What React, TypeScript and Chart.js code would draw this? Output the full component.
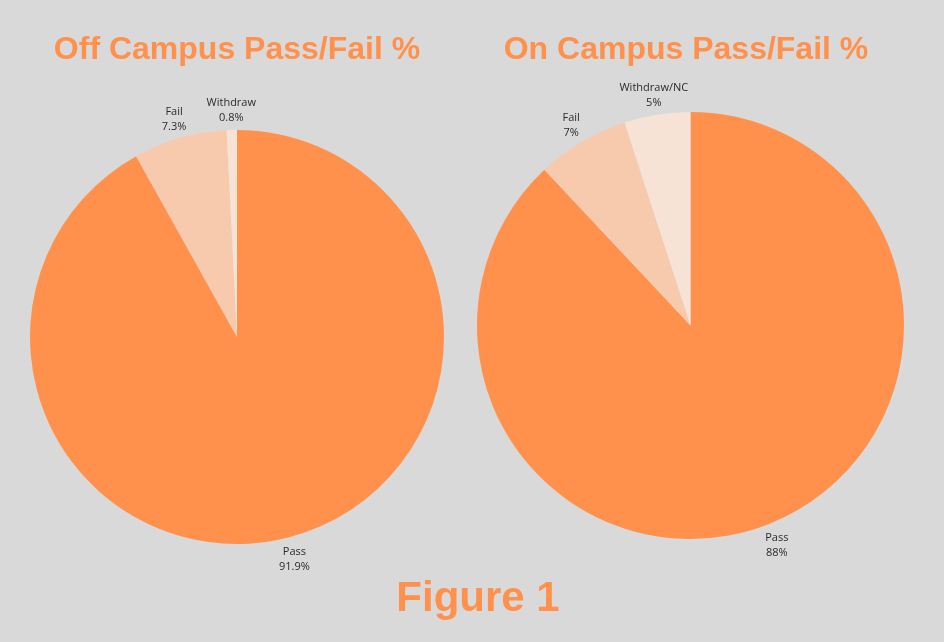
import React, { useEffect, useRef } from "react";
import { Chart, registerables } from "chart.js";

Chart.register(...registerables);

const offCategories = ["Pass", "Fail", "Withdraw"];
const offValues = [91.9, 7.3, 0.8];
const offValueLabels = ["91.9%", "7.3%", "0.8%"];

const onCategories = ["Pass", "Fail", "Withdraw/NC"];
const onValues = [88, 7, 5];
const onValueLabels = ["88%", "7%", "5%"];

const sliceColors = ["#ff914d", "#f7c9ad", "#f7e2d6"];
const ORANGE = "#ff914d";
const BG = "#d9d9d9";

const outsideLabels = {
  id: "outsideLabels",
  afterDraw(chart: any) {
    const opts = chart.options.plugins.outsideLabels;
    const meta = chart.getDatasetMeta(0);
    const ctx = chart.ctx;
    ctx.save();
    ctx.font = "11px 'Open Sans'";
    ctx.fillStyle = "#2b2b2b";
    ctx.textAlign = "center";
    ctx.textBaseline = "middle";
    meta.data.forEach((arc: any, i: number) => {
      const p = arc.getProps(["x", "y", "startAngle", "endAngle", "outerRadius"], true);
      const mid = (p.startAngle + p.endAngle) / 2;
      const d = p.outerRadius + opts.offset;
      const cx = p.x + Math.cos(mid) * d;
      const cy = p.y + Math.sin(mid) * d + opts.shiftY;
      ctx.fillText(chart.data.labels[i], cx, cy - 7.5);
      ctx.fillText(opts.values[i], cx, cy + 7.5);
    });
    ctx.restore();
  },
};

function PieChart(props: {
  labels: string[];
  values: number[];
  valueLabels: string[];
  padding: { left: number; right: number; top: number; bottom: number };
}) {
  const ref = useRef<HTMLCanvasElement>(null);
  useEffect(() => {
    if (!ref.current) return;
    const chart = new Chart(ref.current, {
      type: "pie",
      data: {
        labels: props.labels,
        datasets: [
          {
            data: props.values,
            backgroundColor: sliceColors,
            borderWidth: 0,
          },
        ],
      },
      options: {
        animation: false,
        responsive: true,
        maintainAspectRatio: false,
        layout: { padding: props.padding },
        plugins: {
          legend: { display: false },
          tooltip: { enabled: false },
          outsideLabels: { offset: 21, shiftY: 1.5, values: props.valueLabels },
        } as any,
      },
      plugins: [outsideLabels],
    });
    return () => chart.destroy();
  }, []);
  return <canvas ref={ref} />;
}

export default function App() {
  useEffect(() => {
    document.body.style.margin = "0";
    document.body.style.background = BG;
  }, []);
  const titleStyle: React.CSSProperties = {
    position: "absolute",
    top: 32,
    width: 472,
    textAlign: "center",
    fontFamily: "'Liberation Sans', Arial, sans-serif",
    fontWeight: 700,
    fontSize: 32,
    lineHeight: "32px",
    color: ORANGE,
    whiteSpace: "nowrap",
  };
  return (
    <div style={{ position: "relative", width: 944, height: 642, background: BG, overflow: "hidden" }}>
      <div style={{ position: "absolute", left: 0, top: 0, width: 472, height: 642 }}>
        <PieChart
          labels={offCategories}
          values={offValues}
          valueLabels={offValueLabels}
          padding={{ left: 30, right: 28, top: 130, bottom: 98 }}
        />
      </div>
      <div style={{ position: "absolute", left: 472, top: 0, width: 472, height: 642 }}>
        <PieChart
          labels={onCategories}
          values={onValues}
          valueLabels={onValueLabels}
          padding={{ left: 5, right: 40, top: 112, bottom: 103 }}
        />
      </div>
      <div style={{ ...titleStyle, left: 1 }}>Off Campus Pass/Fail %</div>
      <div style={{ ...titleStyle, left: 450 }}>On Campus Pass/Fail %</div>
      <div
        style={{
          position: "absolute",
          left: 0,
          width: 956,
          top: 576,
          textAlign: "center",
          fontFamily: "'Liberation Sans', Arial, sans-serif",
          fontWeight: 700,
          fontSize: 42,
          lineHeight: "42px",
          color: ORANGE,
        }}
      >
        Figure 1
      </div>
    </div>
  );
}
